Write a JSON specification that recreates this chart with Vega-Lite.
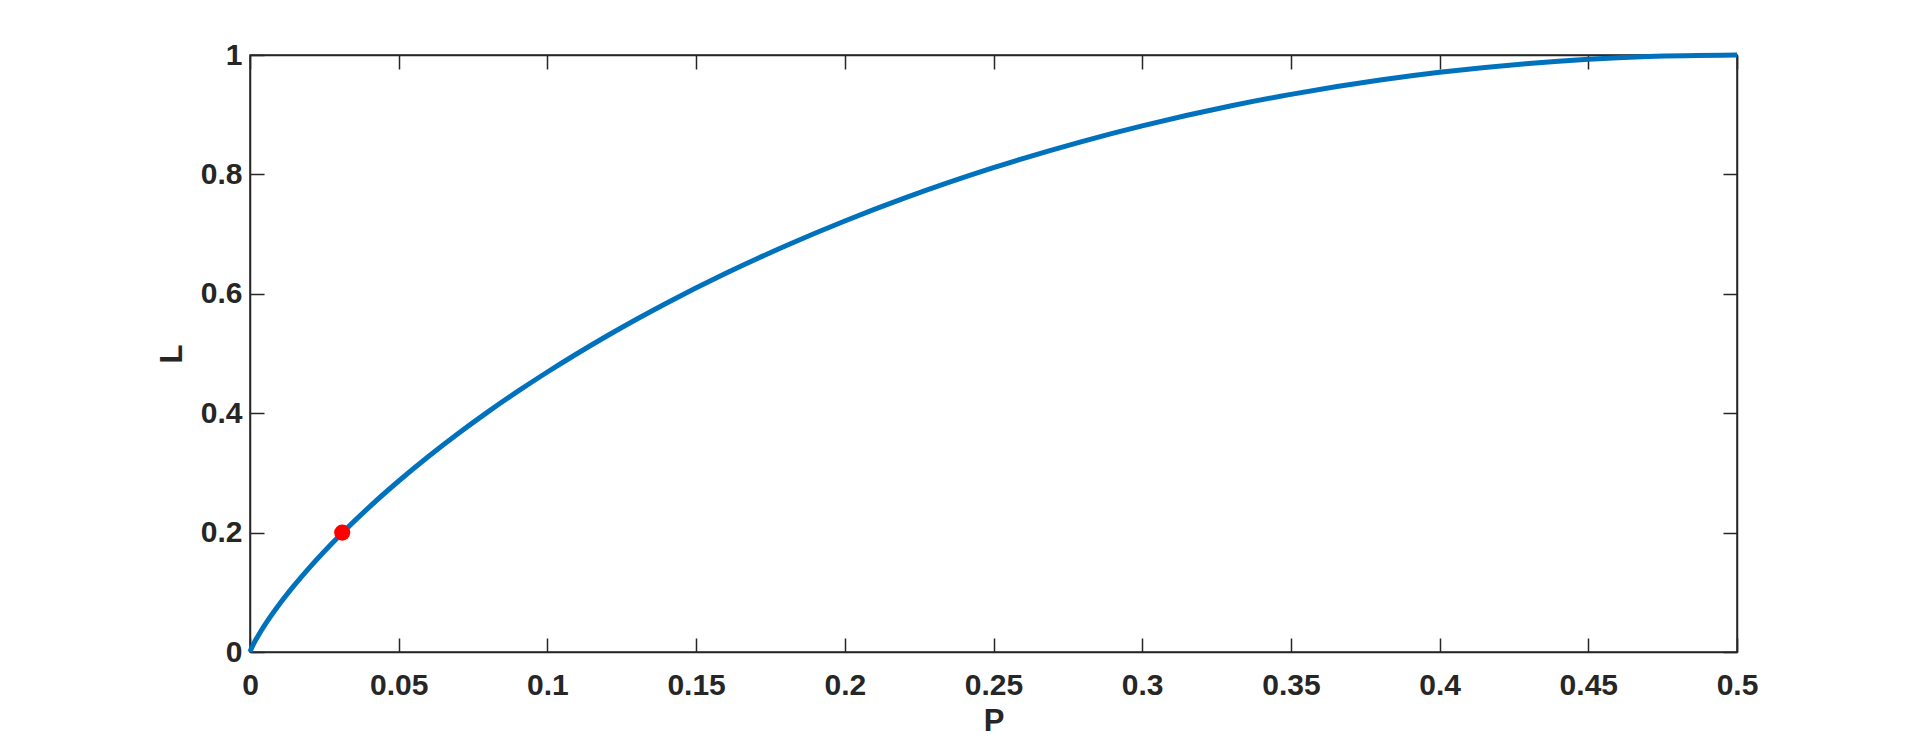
{
  "$schema": "https://vega.github.io/schema/vega-lite/v6.json",
  "width": 1487,
  "height": 597,
  "autosize": {"type": "none"},
  "padding": {"left": 250, "top": 55, "right": 183, "bottom": 88},
  "background": "white",
  "config": {
    "view": {"stroke": "#262626", "strokeWidth": 1.5},
    "axis": {
      "labelFont": "Liberation Sans",
      "labelFontWeight": "bold",
      "labelFontSize": 30,
      "labelColor": "#262626",
      "labelFlush": false,
      "labelOverlap": false,
      "titleFont": "Liberation Sans",
      "titleFontWeight": "bold",
      "titleFontSize": 31,
      "titleColor": "#262626",
      "grid": false,
      "domainColor": "#262626",
      "domainWidth": 1.5,
      "tickColor": "#262626",
      "tickWidth": 1.5,
      "tickSize": -14
    }
  },
  "datasets": {
    "curve": [
      {"P": 0, "L": 0},
      {"P": 0.0005, "L": 0.006204},
      {"P": 0.001, "L": 0.011408},
      {"P": 0.002, "L": 0.020814},
      {"P": 0.003, "L": 0.029464},
      {"P": 0.005, "L": 0.045415},
      {"P": 0.01, "L": 0.080793},
      {"P": 0.015, "L": 0.112362},
      {"P": 0.02, "L": 0.14144},
      {"P": 0.03, "L": 0.194392},
      {"P": 0.04, "L": 0.242292},
      {"P": 0.05, "L": 0.286397},
      {"P": 0.06, "L": 0.327445},
      {"P": 0.07, "L": 0.365924},
      {"P": 0.08, "L": 0.402179},
      {"P": 0.09, "L": 0.43647},
      {"P": 0.1, "L": 0.468996},
      {"P": 0.12, "L": 0.529362},
      {"P": 0.14, "L": 0.58424},
      {"P": 0.16, "L": 0.634311},
      {"P": 0.18, "L": 0.680077},
      {"P": 0.2, "L": 0.721928},
      {"P": 0.22, "L": 0.760168},
      {"P": 0.25, "L": 0.811278},
      {"P": 0.28, "L": 0.855453},
      {"P": 0.3, "L": 0.881291},
      {"P": 0.33, "L": 0.914929},
      {"P": 0.35, "L": 0.934068},
      {"P": 0.38, "L": 0.958042},
      {"P": 0.4, "L": 0.970951},
      {"P": 0.43, "L": 0.985819},
      {"P": 0.45, "L": 0.992778},
      {"P": 0.47, "L": 0.997403},
      {"P": 0.5, "L": 1}
    ],
    "marker": [
      {"P": 0.031, "L": 0.2}
    ]
  },
  "layer": [
    {
      "data": {"name": "curve"},
      "mark": {"type": "line", "color": "#0072BD", "strokeWidth": 5, "interpolate": "monotone"},
      "encoding": {
        "x": {
          "field": "P", "type": "quantitative",
          "scale": {"domain": [0, 0.5], "nice": false, "zero": false},
          "axis": {
            "orient": "bottom",
            "values": [0, 0.05, 0.1, 0.15, 0.2, 0.25, 0.3, 0.35, 0.4, 0.45, 0.5],
            "format": "~g",
            "labelPadding": 32,
            "titlePadding": 6,
            "title": "P"
          }
        },
        "y": {
          "field": "L", "type": "quantitative",
          "scale": {"domain": [0, 1], "nice": false, "zero": false},
          "axis": {
            "orient": "left",
            "values": [0, 0.2, 0.4, 0.6, 0.8, 1],
            "format": "~g",
            "labelPadding": 22,
            "titlePadding": 12,
            "title": "L"
          }
        }
      }
    },
    {
      "data": {"name": "marker"},
      "mark": {"type": "circle", "color": "#FF0000", "opacity": 1, "size": 260},
      "encoding": {
        "x": {
          "field": "P", "type": "quantitative",
          "axis": {
            "orient": "top",
            "values": [0, 0.05, 0.1, 0.15, 0.2, 0.25, 0.3, 0.35, 0.4, 0.45, 0.5],
            "labels": false,
            "title": null,
            "domain": true
          }
        },
        "y": {
          "field": "L", "type": "quantitative",
          "axis": {
            "orient": "right",
            "values": [0, 0.2, 0.4, 0.6, 0.8, 1],
            "labels": false,
            "title": null,
            "domain": true
          }
        }
      }
    }
  ],
  "resolve": {"axis": {"x": "independent", "y": "independent"}}
}
